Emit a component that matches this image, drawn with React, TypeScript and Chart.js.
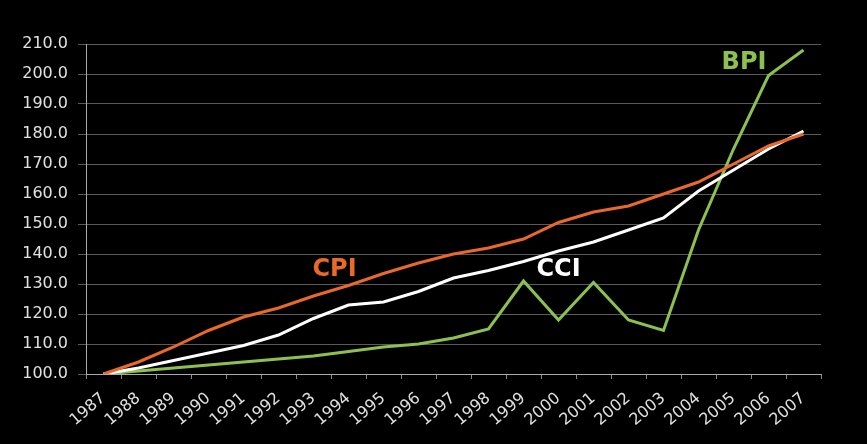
import React, { useEffect, useRef } from "react";
import { Chart, registerables } from "chart.js";

Chart.register(...registerables);

const years = ["1987","1988","1989","1990","1991","1992","1993","1994","1995","1996","1997","1998","1999","2000","2001","2002","2003","2004","2005","2006","2007"];
const cpi = [100, 104, 109, 114.5, 119, 122, 126, 129.5, 133.5, 137, 140, 142, 145, 150.5, 154, 156, 160, 164, 170, 176, 180];
const cci = [100, 102, 104.5, 107, 109.5, 113, 118.5, 123, 124, 127.5, 132, 134.5, 137.5, 141, 144, 148, 152, 161, 168, 175, 181];
const bpi = [100, 101, 102, 103, 104, 105, 106, 107.5, 109, 110, 112, 115, 131, 118, 130.5, 118, 114.5, 148, 175, 199.5, 208];
const yTicks = [100, 110, 120, 130, 140, 150, 160, 170, 180, 190, 200, 210];

const seriesLabels = [
  { text: "CPI", color: "#E8692A", xIndex: 6.6, y: 134.7 },
  { text: "CCI", color: "#FFFFFF", xIndex: 13.0, y: 134.7 },
  { text: "BPI", color: "#8CC152", xIndex: 18.3, y: 203.7 },
];

const labelPlugin = {
  id: "seriesLabels",
  afterDatasetsDraw(chart: any) {
    const { ctx, scales } = chart;
    ctx.save();
    ctx.font = "bold 24px 'DejaVu Sans'";
    ctx.textAlign = "center";
    ctx.textBaseline = "middle";
    for (const l of seriesLabels) {
      ctx.fillStyle = l.color;
      const x = scales.x.getPixelForValue(l.xIndex);
      const y = scales.y.getPixelForValue(l.y);
      ctx.fillText(l.text, x, y);
    }
    ctx.restore();
  },
};

export default function App() {
  const ref = useRef<HTMLCanvasElement>(null);
  useEffect(() => {
    const chart = new Chart(ref.current!, {
      type: "line",
      data: {
        labels: years,
        datasets: [
          { label: "CPI", data: cpi, borderColor: "#E8692A", borderWidth: 3, pointRadius: 0, tension: 0 },
          { label: "CCI", data: cci, borderColor: "#FFFFFF", borderWidth: 3, pointRadius: 0, tension: 0 },
          { label: "BPI", data: bpi, borderColor: "#8CC152", borderWidth: 3, pointRadius: 0, tension: 0 },
        ],
      },
      options: {
        animation: false,
        responsive: false,
        maintainAspectRatio: false,
        layout: { padding: { top: 44, right: 46, left: 0, bottom: 0 } },
        plugins: { legend: { display: false }, tooltip: { enabled: false } },
        scales: {
          x: {
            offset: true,
            grid: { offset: true, drawOnChartArea: false, color: "#888", tickLength: 5 },
            border: { color: "#aaa", width: 1 },
            ticks: {
              color: "#e0e0e0",
              font: { family: "'DejaVu Sans'", size: 16 },
              minRotation: 40,
              maxRotation: 40,
              autoSkip: false,
              padding: 10,
            },
            afterFit: (s: any) => { s.height = 70; },
          },
          y: {
            min: 100,
            max: 210,
            afterBuildTicks: (s: any) => { s.ticks = yTicks.map((v) => ({ value: v })); },
            grid: { color: "#5a5a5a", lineWidth: 1, tickLength: 8 },
            border: { color: "#aaa", width: 1 },
            ticks: {
              color: "#e0e0e0",
              font: { family: "'DejaVu Sans'", size: 16 },
              padding: 10,
              callback: (v: any) => Number(v).toFixed(1),
            },
            afterFit: (s: any) => { s.width = 86; },
          },
        },
      },
      plugins: [labelPlugin],
    });
    return () => chart.destroy();
  }, []);
  return (
    <div style={{ position: "fixed", left: 0, top: 0, width: 867, height: 444, background: "#000" }}>
      <canvas ref={ref} width={867} height={444} style={{ width: 867, height: 444 }} />
    </div>
  );
}
